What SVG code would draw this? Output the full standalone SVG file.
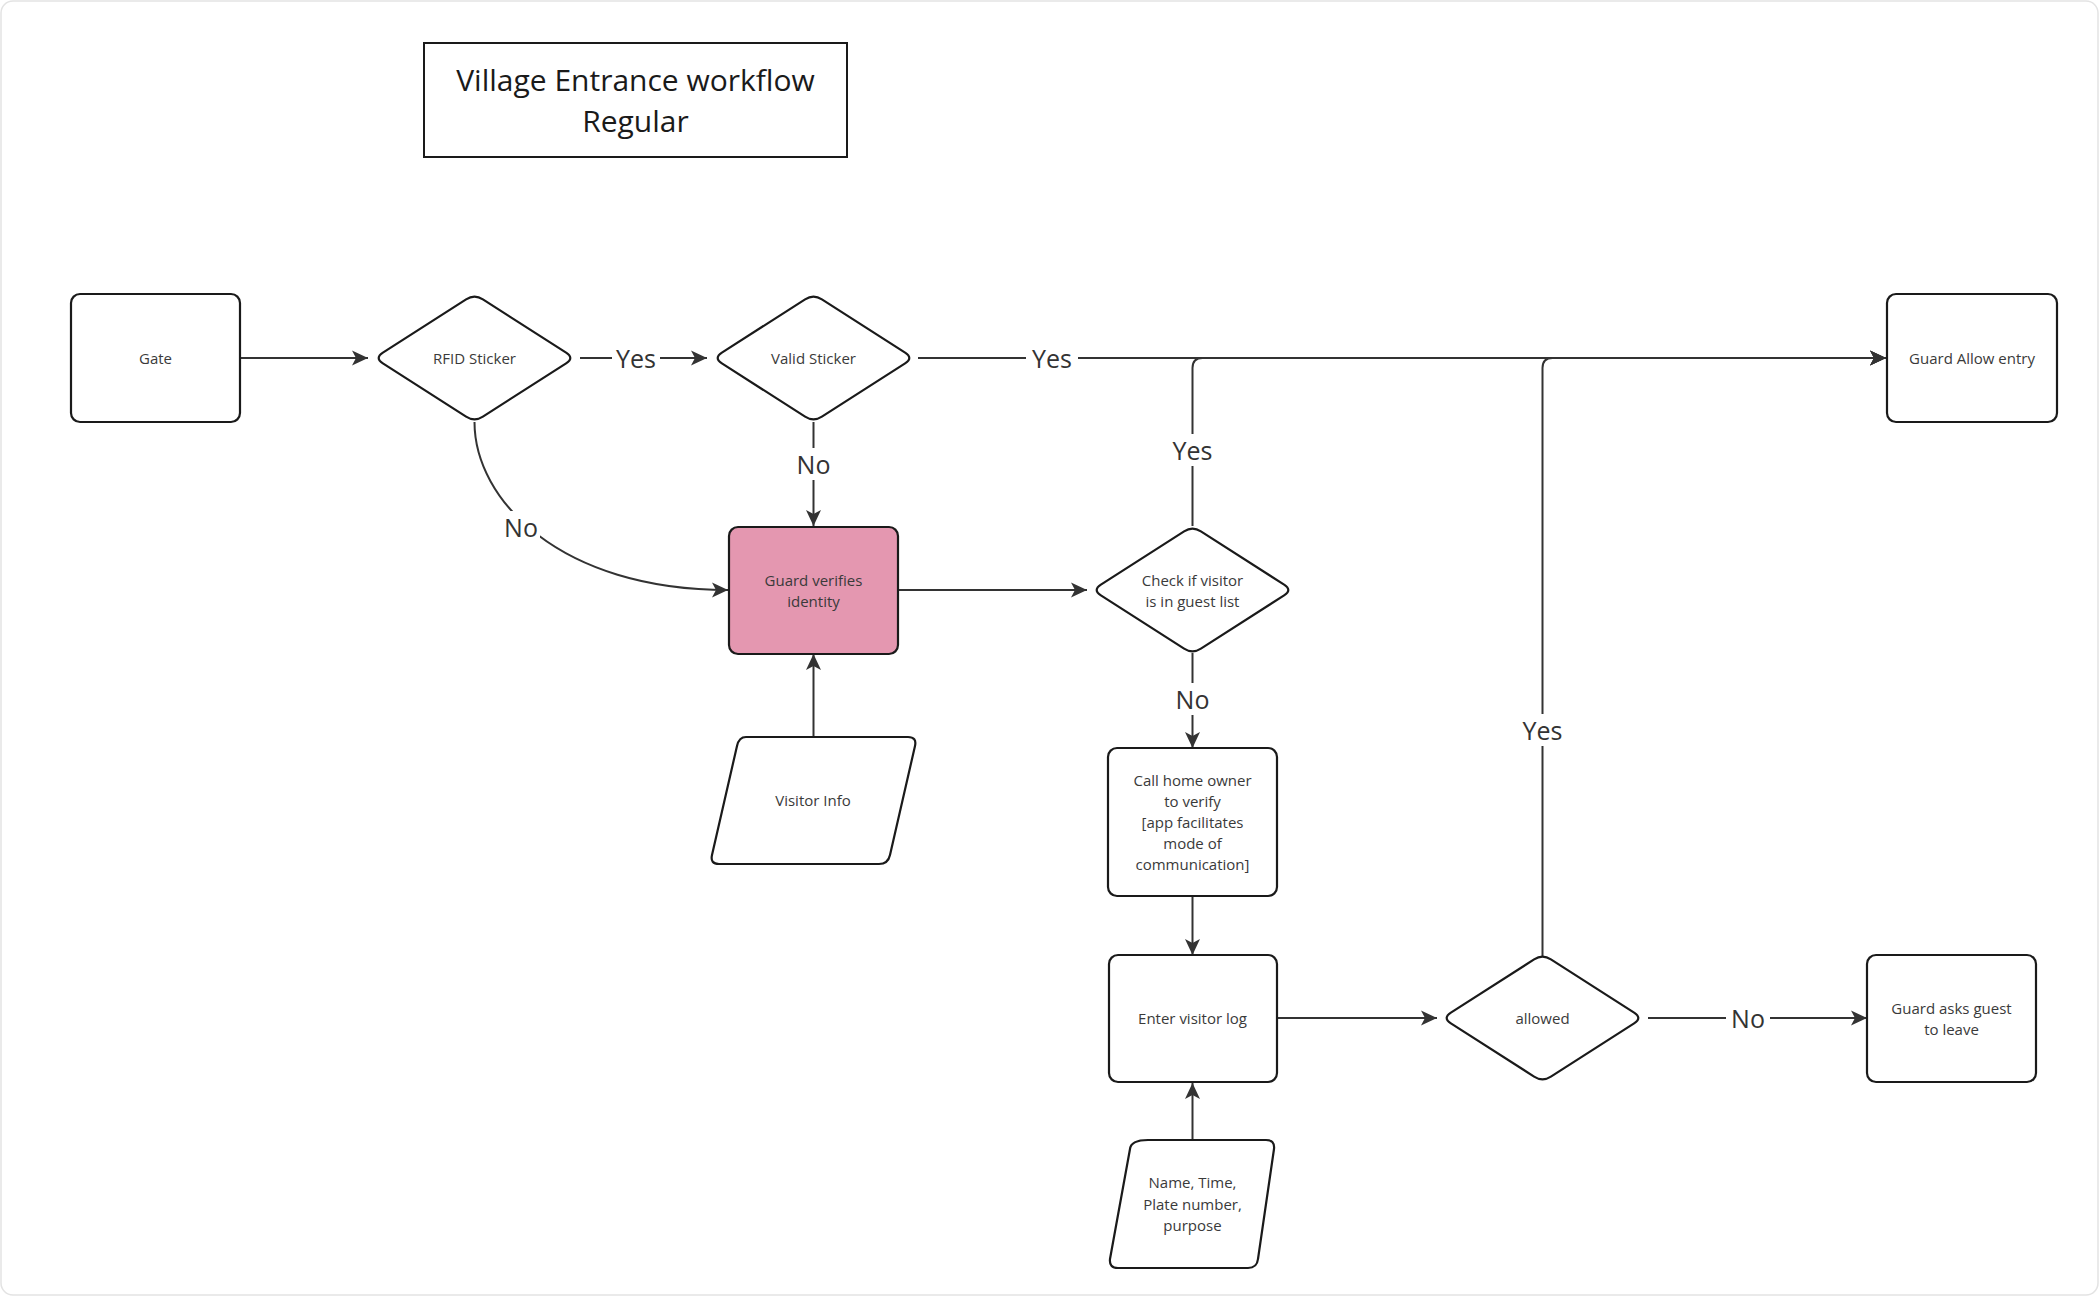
<svg xmlns="http://www.w3.org/2000/svg" width="2099" height="1296" viewBox="0 0 2099 1296">
<defs>
<style>
.node{fill:#ffffff;stroke:#1a1a1a;stroke-width:2.2}
.pink{fill:#e497b0}
.title{fill:#ffffff;stroke:#1a1a1a;stroke-width:2}
.t{font-family:"Open Sans","Noto Sans","Liberation Sans",sans-serif;font-size:15px;fill:#3a3a3a;text-anchor:middle;dominant-baseline:central}
.tt{font-family:"Open Sans","Noto Sans","Liberation Sans",sans-serif;font-size:30px;fill:#1a1a1a;text-anchor:middle;dominant-baseline:central}
.lbl{font-family:"Open Sans","Noto Sans","Liberation Sans",sans-serif;font-size:25px;fill:#333333;text-anchor:middle;dominant-baseline:central}
.c{fill:none;stroke:#333333;stroke-width:2}
.bg{fill:#ffffff}
</style>
<marker id="arr" viewBox="0 0 18 18" refX="17" refY="9" markerWidth="18" markerHeight="18" orient="auto" markerUnits="userSpaceOnUse">
<path d="M1,1.5 L17,9 L1,16.5 L5,9 Z" fill="#333333"/>
</marker>
<path id="dia" d="M-8.4,-58.6 Q0,-64 8.4,-58.6 L91.6,-5.4 Q100,0 91.6,5.4 L8.4,58.6 Q0,64 -8.4,58.6 L-91.6,5.4 Q-100,0 -91.6,-5.4 Z"/>
</defs>
<rect x="1" y="1" width="2097" height="1294" rx="12" fill="#ffffff" stroke="#e3e3e3" stroke-width="1.5"/>

<g id="title">
<rect class="title" x="424" y="43" width="423" height="114"/>
<text class="tt" x="635.5" y="79">Village Entrance workflow</text>
<text class="tt" x="635.5" y="120">Regular</text>
</g>

<g id="connectors">
<path class="c" d="M240,358 L368,358" marker-end="url(#arr)"/>
<path class="c" d="M580,358 L707,358" marker-end="url(#arr)"/>
<rect class="bg" x="612" y="340" width="48" height="36"/>
<text class="lbl" x="636" y="358">Yes</text>
<path class="c" d="M918,358 L1886,358" marker-end="url(#arr)"/>
<rect class="bg" x="1026" y="340" width="52" height="36"/>
<text class="lbl" x="1052" y="358">Yes</text>
<path class="c" d="M813.5,422 L813.5,526" marker-end="url(#arr)"/>
<rect class="bg" x="795" y="448" width="37" height="32"/>
<text class="lbl" x="813.5" y="464">No</text>
<path class="c" d="M474.5,422 C474.5,500 560,590 728,590" marker-end="url(#arr)"/>
<rect class="bg" x="503" y="511" width="37" height="32"/>
<text class="lbl" x="521" y="527">No</text>
<path class="c" d="M898,590 L1087,590" marker-end="url(#arr)"/>
<path class="c" d="M813.5,736 L813.5,654" marker-end="url(#arr)"/>
<path class="c" d="M1192.5,526 L1192.5,368 Q1192.5,358 1202.5,358 L1886,358" marker-end="url(#arr)"/>
<rect class="bg" x="1168" y="434" width="50" height="32"/>
<text class="lbl" x="1192.5" y="450">Yes</text>
<path class="c" d="M1192.5,653 L1192.5,748" marker-end="url(#arr)"/>
<rect class="bg" x="1174" y="683" width="37" height="32"/>
<text class="lbl" x="1192.5" y="699">No</text>
<path class="c" d="M1192.5,896 L1192.5,955" marker-end="url(#arr)"/>
<path class="c" d="M1192.5,1140 L1192.5,1083" marker-end="url(#arr)"/>
<path class="c" d="M1277,1018 L1437,1018" marker-end="url(#arr)"/>
<path class="c" d="M1542.5,956 L1542.5,368 Q1542.5,358 1552.5,358 L1886,358" marker-end="url(#arr)"/>
<rect class="bg" x="1518" y="714" width="50" height="32"/>
<text class="lbl" x="1542.5" y="730">Yes</text>
<path class="c" d="M1648,1018 L1867,1018" marker-end="url(#arr)"/>
<rect class="bg" x="1726" y="1002" width="44" height="32"/>
<text class="lbl" x="1748" y="1018">No</text>
</g>

<g id="gate">
<rect class="node" x="71" y="294" width="169" height="128" rx="9"/>
<text class="t" x="155.5" y="358">Gate</text>
</g>
<g id="rfid">
<use href="#dia" x="474.5" y="358" class="node"/>
<text class="t" x="474.5" y="358">RFID Sticker</text>
</g>
<g id="valid">
<use href="#dia" x="813.5" y="358" class="node"/>
<text class="t" x="813.5" y="358">Valid Sticker</text>
</g>
<g id="allow">
<rect class="node" x="1887" y="294" width="170" height="128" rx="9"/>
<text class="t" x="1972" y="358">Guard Allow entry</text>
</g>
<g id="verify">
<rect class="node pink" x="729" y="527" width="169" height="127" rx="9"/>
<text class="t" x="813.5" y="580">Guard verifies</text>
<text class="t" x="813.5" y="601">identity</text>
</g>
<g id="check">
<use href="#dia" x="1192.5" y="590" class="node"/>
<text class="t" x="1192.5" y="580">Check if visitor</text>
<text class="t" x="1192.5" y="601">is in guest list</text>
</g>
<g id="visitorinfo">
<path class="node" d="M746,737 L908,737 Q917,737 915,746 L890,855 Q888,864 879,864 L719,864 Q710,864 712,855 L737,746 Q739,737 746,737 Z"/>
<text class="t" x="813" y="800">Visitor Info</text>
</g>
<g id="callowner">
<rect class="node" x="1108" y="748" width="169" height="148" rx="9"/>
<text class="t" x="1192.5" y="780">Call home owner</text>
<text class="t" x="1192.5" y="801">to verify</text>
<text class="t" x="1192.5" y="822">[app facilitates</text>
<text class="t" x="1192.5" y="843">mode of</text>
<text class="t" x="1192.5" y="864">communication]</text>
</g>
<g id="visitorlog">
<rect class="node" x="1109" y="955" width="168" height="127" rx="9"/>
<text class="t" x="1192.5" y="1018">Enter visitor log</text>
</g>
<g id="allowed">
<use href="#dia" x="1542.5" y="1018" class="node"/>
<text class="t" x="1542.5" y="1018">allowed</text>
</g>
<g id="leave">
<rect class="node" x="1867" y="955" width="169" height="127" rx="9"/>
<text class="t" x="1951.5" y="1008">Guard asks guest</text>
<text class="t" x="1951.5" y="1029">to leave</text>
</g>
<g id="logdata">
<path class="node" d="M1148,1140 L1266,1140 Q1275,1140 1274,1149 L1258,1259 Q1257,1268 1248,1268 L1118,1268 Q1109,1268 1110,1259 L1130,1149 Q1131,1140 1148,1140 Z"/>
<text class="t" x="1192.5" y="1182">Name, Time,</text>
<text class="t" x="1192.5" y="1204">Plate number,</text>
<text class="t" x="1192.5" y="1225">purpose</text>
</g>
</svg>
